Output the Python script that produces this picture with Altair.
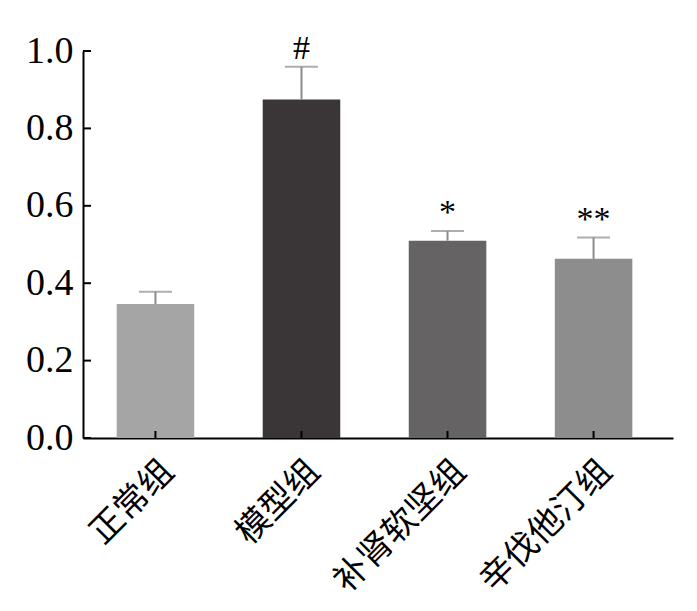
import altair as alt
import pandas as pd

groups = ["正常组", "模型组", "补肾软坚组", "辛伐他汀组"]
means = [0.346, 0.875, 0.510, 0.463]
errs = [0.032, 0.084, 0.025, 0.055]
colors = ["#a6a5a6", "#3a3637", "#656364", "#8e8d8e"]
marks = ["", "#", "*", "**"]
yticks = [0.0, 0.2, 0.4, 0.6, 0.8, 1.0]

df = pd.DataFrame({
    "group": groups,
    "mean": means,
    "upper": [m + e for m, e in zip(means, errs)],
    "mark": marks,
})
tdf = pd.DataFrame({"v": yticks})

W, H = 590, 387

xscale = alt.Scale(domain=groups, paddingInner=0.469, paddingOuter=0.2545, align=0.453)
yscale = alt.Scale(domain=[0, 1], nice=False, zero=True)

x_axis = alt.Axis(
    title=None, labelAngle=-45, labelAlign="right", labelBaseline="middle",
    labelFont="Noto Sans CJK SC", labelFontSize=34, labelColor="black",
    labelPadding=28, labelOffset=13, labelLimit=0, labelOverlap=False,
    ticks=False, domainColor="black", domainWidth=2, grid=False,
)
y_axis = alt.Axis(
    title=None, values=yticks, format=".1f", labelFont="Liberation Serif",
    labelFontSize=38, labelColor="black", labelPadding=10, ticks=False,
    domainColor="black", domainWidth=2, grid=False,
)

X = alt.X("group:N", sort=groups, scale=xscale, axis=x_axis)

bars = alt.Chart(df).mark_bar().encode(
    x=X,
    y=alt.Y("mean:Q", scale=yscale, axis=y_axis),
    color=alt.Color("group:N", scale=alt.Scale(domain=groups, range=colors), legend=None),
)

err = alt.Chart(df).mark_rule(color="#8c8c8c", strokeWidth=2).encode(
    x=X, y=alt.Y("mean:Q", scale=yscale), y2="upper:Q"
)

cap = alt.Chart(df).mark_tick(color="#8c8c8c", thickness=2, size=33).encode(
    x=X, y=alt.Y("upper:Q", scale=yscale)
)

txt = alt.Chart(df).mark_text(
    baseline="bottom", dy=-1, font="Liberation Serif", fontSize=34, color="black"
).encode(x=X, y=alt.Y("upper:Q", scale=yscale), text="mark:N")

ytk = alt.Chart(tdf).mark_rule(color="black", strokeWidth=2).encode(
    y=alt.Y("v:Q", scale=yscale), x=alt.value(0), x2=alt.value(8)
)

xtk = alt.Chart(df).mark_rule(color="black", strokeWidth=2).encode(
    x=X, y=alt.value(H), y2=alt.value(H - 7)
)

chart = alt.layer(bars, err, cap, txt, ytk, xtk).properties(
    width=W, height=H,
    padding={"left": 17, "top": 23, "right": 5, "bottom": 5},
    background="white",
).configure_view(strokeWidth=0, stroke=None)

chart.save("out.html", embed_options={"renderer": "svg", "actions": False})
